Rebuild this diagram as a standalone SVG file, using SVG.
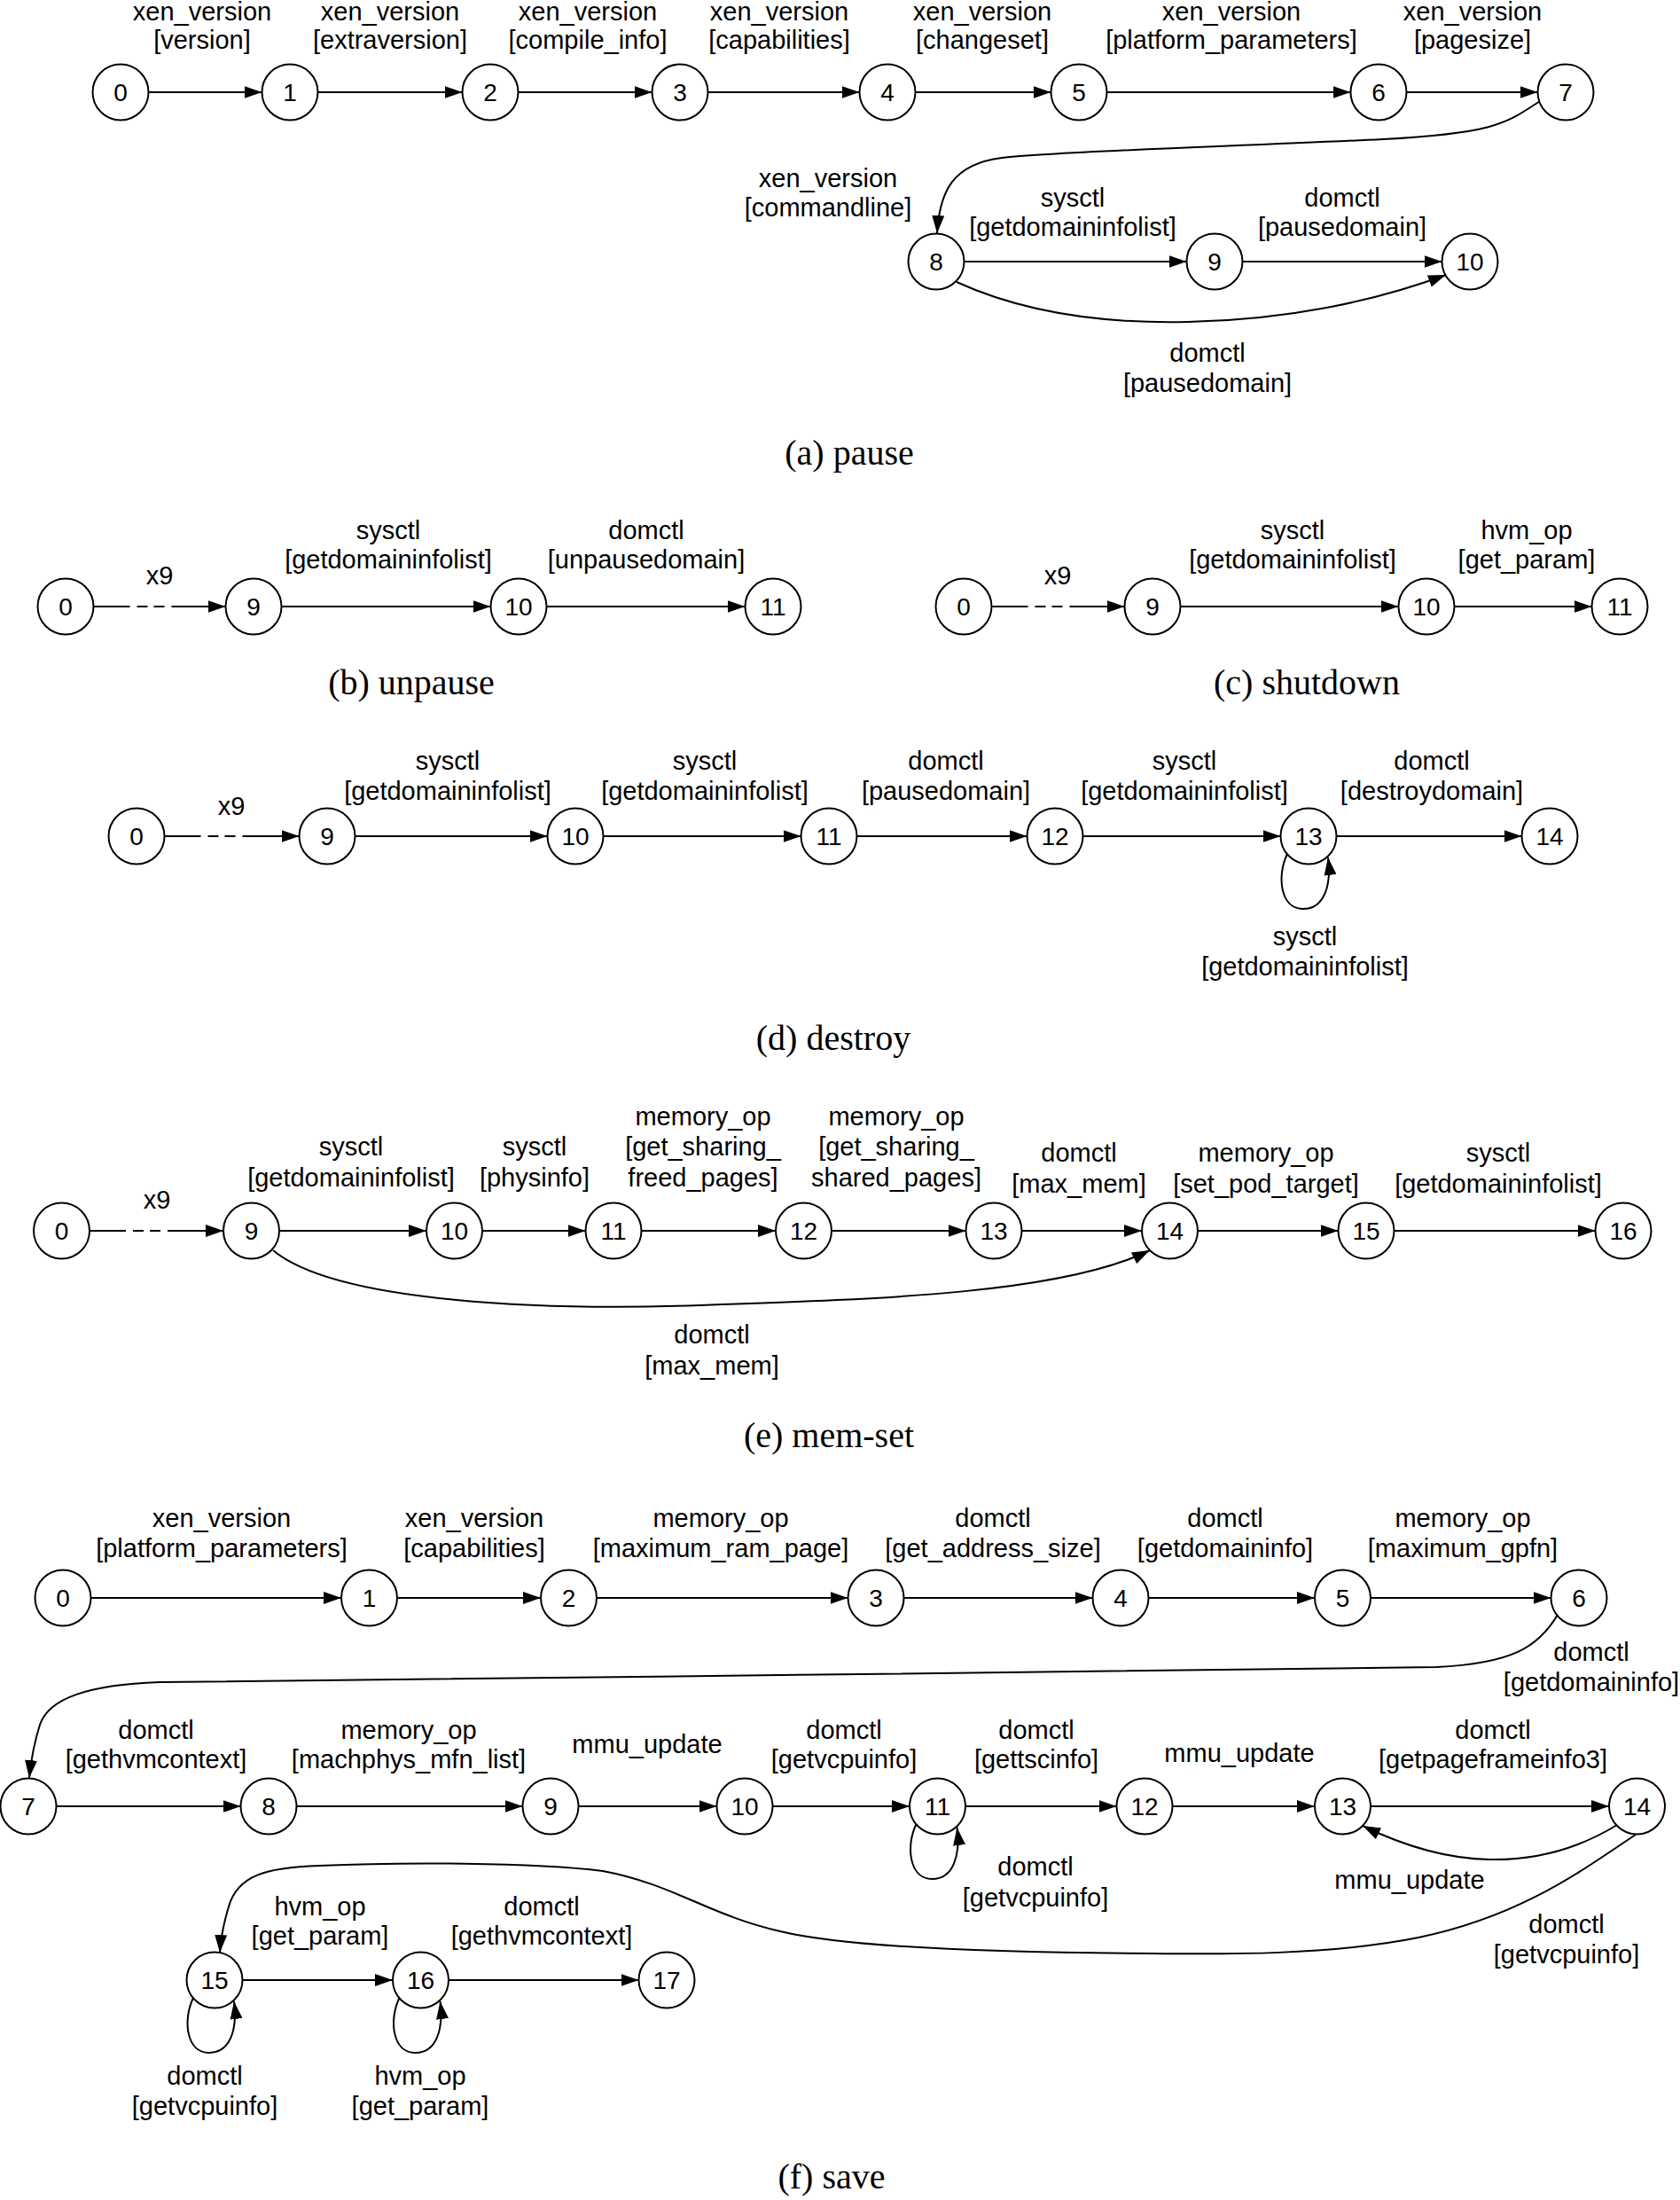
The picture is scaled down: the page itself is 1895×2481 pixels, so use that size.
<svg xmlns="http://www.w3.org/2000/svg" width="1895" height="2481" viewBox="0 0 1895 2481">
<style>
.n circle{fill:#fff;stroke:#000;stroke-width:2}
.n text{font-family:"Liberation Sans",Arial,Helvetica,sans-serif;font-size:28px;text-anchor:middle;fill:#000}
.l text{font-family:"Liberation Sans",Arial,Helvetica,sans-serif;font-size:29px;text-anchor:middle;fill:#000}
.cap{font-family:"Liberation Serif","Times New Roman",serif;font-size:40px;text-anchor:middle;fill:#000}
.e path{fill:none;stroke:#000;stroke-width:2;marker-end:url(#ah)}
.e path.d{stroke-dasharray:41 8 12 7 12 8 400}
</style>
<defs>
<marker id="ah" viewBox="0 0 20 14" refX="20" refY="7" markerWidth="20" markerHeight="14" orient="auto" markerUnits="userSpaceOnUse"><path d="M0,0 L20,7 L0,14 Z" fill="#000"/></marker>
</defs>
<rect width="1895" height="2481" fill="#fff"/>
<g id="connectors" class="e">
<path d="M167.5,104 H295.5"/>
<path d="M358.5,104 H521.5"/>
<path d="M584.5,104 H735.5"/>
<path d="M798.5,104 H969.5"/>
<path d="M1032.5,104 H1185.5"/>
<path d="M1248.5,104 H1523.5"/>
<path d="M1586.5,104 H1734.5"/>
<path d="M1737,114 C1700,138 1690,150 1560,157 C1400,165 1200,170 1130,178 C1075,185 1060,215 1057,263"/>
<path d="M1087.5,295 H1338.5"/>
<path d="M1401.5,295 H1626.5"/>
<path d="M1079,318 C1160,355 1250,365 1340,363 C1450,361 1550,340 1631,310"/>
<path class="d" d="M105.5,684 H254.5"/>
<path d="M317.5,684 H553.5"/>
<path d="M616.5,684 H840.5"/>
<path class="d" d="M1118.5,684 H1268.5"/>
<path d="M1331.5,684 H1577.5"/>
<path d="M1640.5,684 H1795.5"/>
<path class="d" d="M185.5,943 H337.5"/>
<path d="M400.5,943 H617.5"/>
<path d="M680.5,943 H903.5"/>
<path d="M966.5,943 H1158.5"/>
<path d="M1221.5,943 H1444.5"/>
<path d="M1507.5,943 H1716.5"/>
<path d="M1452,963 C1440,988 1444,1025 1470,1025 C1494,1025 1502,998 1498,967"/>
<path class="d" d="M101,1388 H252"/>
<path d="M315,1388 H481"/>
<path d="M544,1388 H660.5"/>
<path d="M723.5,1388 H875"/>
<path d="M938,1388 H1089.5"/>
<path d="M1152.5,1388 H1288"/>
<path d="M1351,1388 H1509.5"/>
<path d="M1572.5,1388 H1799.5"/>
<path d="M308,1410 C380,1470 620,1478 790,1472 C1000,1465 1200,1458 1297,1410"/>
<path d="M102.5,1802 H385"/>
<path d="M448,1802 H610"/>
<path d="M673,1802 H956.5"/>
<path d="M1019.5,1802 H1232.5"/>
<path d="M1295.5,1802 H1483"/>
<path d="M1546,1802 H1749.5"/>
<path d="M1757,1821 C1735,1858 1705,1876 1620,1880 C1200,1886 600,1892 180,1897 C100,1900 55,1915 45,1945 C38,1967 35,1985 33,2005"/>
<path d="M63.5,2037 H271.5"/>
<path d="M334.5,2037 H589.5"/>
<path d="M652.5,2037 H808.5"/>
<path d="M871.5,2037 H1026"/>
<path d="M1089,2037 H1259.5"/>
<path d="M1322.5,2037 H1483"/>
<path d="M1546,2037 H1815"/>
<path d="M1033.5,2057 C1021.5,2082 1025.5,2119 1051.5,2119 C1075.5,2119 1083.5,2092 1079.5,2061"/>
<path d="M1824,2058 C1780,2085 1730,2098 1680,2097 C1630,2096 1580,2080 1537,2059"/>
<path d="M1845,2069 C1790,2105 1720,2160 1600,2185 C1500,2205 1380,2204 1300,2203 C1100,2202 950,2195 880,2178 C800,2160 760,2125 680,2110 C600,2100 450,2100 360,2104 C300,2106 268,2115 258,2150 C252,2170 249,2185 248,2202"/>
<path d="M273.5,2233 H443"/>
<path d="M506,2233 H720.5"/>
<path d="M218,2253 C206,2278 210,2315 236,2315 C260,2315 268,2288 264,2257"/>
<path d="M450.5,2253 C438.5,2278 442.5,2315 468.5,2315 C492.5,2315 500.5,2288 496.5,2257"/>
</g>
<g id="a-n0" class="n"><circle cx="136" cy="104" r="31.5"/><text x="136" y="114">0</text></g>
<g id="a-n1" class="n"><circle cx="327" cy="104" r="31.5"/><text x="327" y="114">1</text></g>
<g id="a-n2" class="n"><circle cx="553" cy="104" r="31.5"/><text x="553" y="114">2</text></g>
<g id="a-n3" class="n"><circle cx="767" cy="104" r="31.5"/><text x="767" y="114">3</text></g>
<g id="a-n4" class="n"><circle cx="1001" cy="104" r="31.5"/><text x="1001" y="114">4</text></g>
<g id="a-n5" class="n"><circle cx="1217" cy="104" r="31.5"/><text x="1217" y="114">5</text></g>
<g id="a-n6" class="n"><circle cx="1555" cy="104" r="31.5"/><text x="1555" y="114">6</text></g>
<g id="a-n7" class="n"><circle cx="1766" cy="104" r="31.5"/><text x="1766" y="114">7</text></g>
<g id="a-n8" class="n"><circle cx="1056" cy="295" r="31.5"/><text x="1056" y="305">8</text></g>
<g id="a-n9" class="n"><circle cx="1370" cy="295" r="31.5"/><text x="1370" y="305">9</text></g>
<g id="a-n10" class="n"><circle cx="1658" cy="295" r="31.5"/><text x="1658" y="305">10</text></g>
<g id="b-n0" class="n"><circle cx="74" cy="684" r="31.5"/><text x="74" y="694">0</text></g>
<g id="b-n9" class="n"><circle cx="286" cy="684" r="31.5"/><text x="286" y="694">9</text></g>
<g id="b-n10" class="n"><circle cx="585" cy="684" r="31.5"/><text x="585" y="694">10</text></g>
<g id="b-n11" class="n"><circle cx="872" cy="684" r="31.5"/><text x="872" y="694">11</text></g>
<g id="c-n0" class="n"><circle cx="1087" cy="684" r="31.5"/><text x="1087" y="694">0</text></g>
<g id="c-n9" class="n"><circle cx="1300" cy="684" r="31.5"/><text x="1300" y="694">9</text></g>
<g id="c-n10" class="n"><circle cx="1609" cy="684" r="31.5"/><text x="1609" y="694">10</text></g>
<g id="c-n11" class="n"><circle cx="1827" cy="684" r="31.5"/><text x="1827" y="694">11</text></g>
<g id="d-n0" class="n"><circle cx="154" cy="943" r="31.5"/><text x="154" y="953">0</text></g>
<g id="d-n9" class="n"><circle cx="369" cy="943" r="31.5"/><text x="369" y="953">9</text></g>
<g id="d-n10" class="n"><circle cx="649" cy="943" r="31.5"/><text x="649" y="953">10</text></g>
<g id="d-n11" class="n"><circle cx="935" cy="943" r="31.5"/><text x="935" y="953">11</text></g>
<g id="d-n12" class="n"><circle cx="1190" cy="943" r="31.5"/><text x="1190" y="953">12</text></g>
<g id="d-n13" class="n"><circle cx="1476" cy="943" r="31.5"/><text x="1476" y="953">13</text></g>
<g id="d-n14" class="n"><circle cx="1748" cy="943" r="31.5"/><text x="1748" y="953">14</text></g>
<g id="e-n0" class="n"><circle cx="69.5" cy="1388" r="31.5"/><text x="69.5" y="1398">0</text></g>
<g id="e-n9" class="n"><circle cx="283.5" cy="1388" r="31.5"/><text x="283.5" y="1398">9</text></g>
<g id="e-n10" class="n"><circle cx="512.5" cy="1388" r="31.5"/><text x="512.5" y="1398">10</text></g>
<g id="e-n11" class="n"><circle cx="692" cy="1388" r="31.5"/><text x="692" y="1398">11</text></g>
<g id="e-n12" class="n"><circle cx="906.5" cy="1388" r="31.5"/><text x="906.5" y="1398">12</text></g>
<g id="e-n13" class="n"><circle cx="1121" cy="1388" r="31.5"/><text x="1121" y="1398">13</text></g>
<g id="e-n14" class="n"><circle cx="1319.5" cy="1388" r="31.5"/><text x="1319.5" y="1398">14</text></g>
<g id="e-n15" class="n"><circle cx="1541" cy="1388" r="31.5"/><text x="1541" y="1398">15</text></g>
<g id="e-n16" class="n"><circle cx="1831" cy="1388" r="31.5"/><text x="1831" y="1398">16</text></g>
<g id="f-n0" class="n"><circle cx="71" cy="1802" r="31.5"/><text x="71" y="1812">0</text></g>
<g id="f-n1" class="n"><circle cx="416.5" cy="1802" r="31.5"/><text x="416.5" y="1812">1</text></g>
<g id="f-n2" class="n"><circle cx="641.5" cy="1802" r="31.5"/><text x="641.5" y="1812">2</text></g>
<g id="f-n3" class="n"><circle cx="988" cy="1802" r="31.5"/><text x="988" y="1812">3</text></g>
<g id="f-n4" class="n"><circle cx="1264" cy="1802" r="31.5"/><text x="1264" y="1812">4</text></g>
<g id="f-n5" class="n"><circle cx="1514.5" cy="1802" r="31.5"/><text x="1514.5" y="1812">5</text></g>
<g id="f-n6" class="n"><circle cx="1781" cy="1802" r="31.5"/><text x="1781" y="1812">6</text></g>
<g id="f-n7" class="n"><circle cx="32" cy="2037" r="31.5"/><text x="32" y="2047">7</text></g>
<g id="f-n8" class="n"><circle cx="303" cy="2037" r="31.5"/><text x="303" y="2047">8</text></g>
<g id="f-n9" class="n"><circle cx="621" cy="2037" r="31.5"/><text x="621" y="2047">9</text></g>
<g id="f-n10" class="n"><circle cx="840" cy="2037" r="31.5"/><text x="840" y="2047">10</text></g>
<g id="f-n11" class="n"><circle cx="1057.5" cy="2037" r="31.5"/><text x="1057.5" y="2047">11</text></g>
<g id="f-n12" class="n"><circle cx="1291" cy="2037" r="31.5"/><text x="1291" y="2047">12</text></g>
<g id="f-n13" class="n"><circle cx="1514.5" cy="2037" r="31.5"/><text x="1514.5" y="2047">13</text></g>
<g id="f-n14" class="n"><circle cx="1846.5" cy="2037" r="31.5"/><text x="1846.5" y="2047">14</text></g>
<g id="f-n15" class="n"><circle cx="242" cy="2233" r="31.5"/><text x="242" y="2243">15</text></g>
<g id="f-n16" class="n"><circle cx="474.5" cy="2233" r="31.5"/><text x="474.5" y="2243">16</text></g>
<g id="f-n17" class="n"><circle cx="752" cy="2233" r="31.5"/><text x="752" y="2243">17</text></g>
<g id="labels" class="l">
<text x="228" y="23">xen_version</text><text x="228" y="55">[version]</text>
<text x="440" y="23">xen_version</text><text x="440" y="55">[extraversion]</text>
<text x="663" y="23">xen_version</text><text x="663" y="55">[compile_info]</text>
<text x="879" y="23">xen_version</text><text x="879" y="55">[capabilities]</text>
<text x="1108" y="23">xen_version</text><text x="1108" y="55">[changeset]</text>
<text x="1389" y="23">xen_version</text><text x="1389" y="55">[platform_parameters]</text>
<text x="1661" y="23">xen_version</text><text x="1661" y="55">[pagesize]</text>
<text x="934" y="211">xen_version</text><text x="934" y="244">[commandline]</text>
<text x="1210" y="233">sysctl</text><text x="1210" y="266">[getdomaininfolist]</text>
<text x="1514" y="233">domctl</text><text x="1514" y="266">[pausedomain]</text>
<text x="1362" y="408">domctl</text><text x="1362" y="442">[pausedomain]</text>
<text x="180" y="659">x9</text>
<text x="438" y="608">sysctl</text><text x="438" y="641">[getdomaininfolist]</text>
<text x="729" y="608">domctl</text><text x="729" y="641">[unpausedomain]</text>
<text x="1193" y="659">x9</text>
<text x="1458" y="608">sysctl</text><text x="1458" y="641">[getdomaininfolist]</text>
<text x="1722" y="608">hvm_op</text><text x="1722" y="641">[get_param]</text>
<text x="261" y="919">x9</text>
<text x="505" y="868">sysctl</text><text x="505" y="902">[getdomaininfolist]</text>
<text x="795" y="868">sysctl</text><text x="795" y="902">[getdomaininfolist]</text>
<text x="1067" y="868">domctl</text><text x="1067" y="902">[pausedomain]</text>
<text x="1336" y="868">sysctl</text><text x="1336" y="902">[getdomaininfolist]</text>
<text x="1615" y="868">domctl</text><text x="1615" y="902">[destroydomain]</text>
<text x="1472" y="1066">sysctl</text><text x="1472" y="1100">[getdomaininfolist]</text>
<text x="177" y="1363">x9</text>
<text x="396" y="1303">sysctl</text><text x="396" y="1338">[getdomaininfolist]</text>
<text x="603" y="1303">sysctl</text><text x="603" y="1338">[physinfo]</text>
<text x="793" y="1269">memory_op</text><text x="793" y="1303">[get_sharing_</text><text x="793" y="1338">freed_pages]</text>
<text x="1011" y="1269">memory_op</text><text x="1011" y="1303">[get_sharing_</text><text x="1011" y="1338">shared_pages]</text>
<text x="1217" y="1310">domctl</text><text x="1217" y="1345">[max_mem]</text>
<text x="1428" y="1310">memory_op</text><text x="1428" y="1345">[set_pod_target]</text>
<text x="1690" y="1310">sysctl</text><text x="1690" y="1345">[getdomaininfolist]</text>
<text x="803" y="1515">domctl</text><text x="803" y="1550">[max_mem]</text>
<text x="250" y="1722">xen_version</text><text x="250" y="1756">[platform_parameters]</text>
<text x="535" y="1722">xen_version</text><text x="535" y="1756">[capabilities]</text>
<text x="813" y="1722">memory_op</text><text x="813" y="1756">[maximum_ram_page]</text>
<text x="1120" y="1722">domctl</text><text x="1120" y="1756">[get_address_size]</text>
<text x="1382" y="1722">domctl</text><text x="1382" y="1756">[getdomaininfo]</text>
<text x="1650" y="1722">memory_op</text><text x="1650" y="1756">[maximum_gpfn]</text>
<text x="1795" y="1873">domctl</text><text x="1795" y="1907">[getdomaininfo]</text>
<text x="176" y="1961">domctl</text><text x="176" y="1994">[gethvmcontext]</text>
<text x="461" y="1961">memory_op</text><text x="461" y="1994">[machphys_mfn_list]</text>
<text x="730" y="1977">mmu_update</text>
<text x="952" y="1961">domctl</text><text x="952" y="1994">[getvcpuinfo]</text>
<text x="1169" y="1961">domctl</text><text x="1169" y="1994">[gettscinfo]</text>
<text x="1398" y="1987">mmu_update</text>
<text x="1684" y="1961">domctl</text><text x="1684" y="1994">[getpageframeinfo3]</text>
<text x="1168" y="2115">domctl</text><text x="1168" y="2150">[getvcpuinfo]</text>
<text x="1590" y="2130">mmu_update</text>
<text x="1767" y="2180">domctl</text><text x="1767" y="2214">[getvcpuinfo]</text>
<text x="361" y="2160">hvm_op</text><text x="361" y="2193">[get_param]</text>
<text x="611" y="2160">domctl</text><text x="611" y="2193">[gethvmcontext]</text>
<text x="231" y="2351">domctl</text><text x="231" y="2385">[getvcpuinfo]</text>
<text x="474" y="2351">hvm_op</text><text x="474" y="2385">[get_param]</text>
</g>
<g id="captions">
<text class="cap" x="958" y="524">(a) pause</text>
<text class="cap" x="464" y="783">(b) unpause</text>
<text class="cap" x="1474" y="783">(c) shutdown</text>
<text class="cap" x="940" y="1184">(d) destroy</text>
<text class="cap" x="935" y="1632">(e) mem-set</text>
<text class="cap" x="938" y="2468">(f) save</text>
</g>
</svg>
